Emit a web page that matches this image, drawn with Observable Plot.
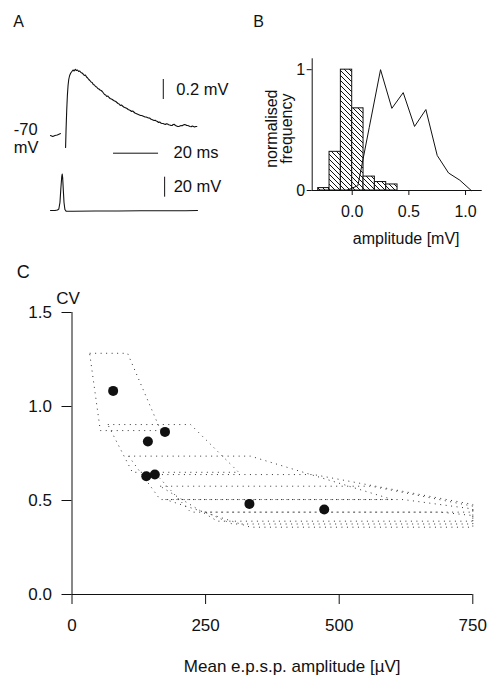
<!DOCTYPE html>
<html><head><meta charset="utf-8">
<script src="https://cdn.jsdelivr.net/npm/d3@7"></script>
<script src="https://cdn.jsdelivr.net/npm/@observablehq/plot@0.6"></script>
<style>
html,body{margin:0;padding:0;background:#fff;}
#fig{position:relative;width:490px;height:677px;overflow:hidden;font-family:"Liberation Sans",Arial,sans-serif;background:#fff;}
#fig > svg{position:absolute;}
</style></head><body><div id="fig"></div>
<script>
const FONT = '"Liberation Sans", Arial, sans-serif';

// ---------- Panel A: EPSP trace (ms, mV relative to -70 mV rest) ----------
const epspTime = [0,1,2,3,4,4.4,
  6.7,6.9,7.2,7.5,7.8,8.1,8.5,9.0,9.5,10.0,10.5,11.0,11.5,12.0,12.5,13.0,13.5,14,14.5,15,15.5,16,16.5,17,17.5,18,18.5,19,19.5,20,20.5,21,21.5,22,22.5,23,23.5,24,24.5,25,25.5,26,26.5,27,27.5,28,28.5,29,29.5,30,30.5,31,31.5,32,32.5,33,33.5,34,34.5,35,35.5,36,36.5,37,37.5,38,38.5,39,39.5,40,40.5,41,41.5,42,42.5,43,43.5,44,44.5,45,45.5,46,46.5,47,47.5,48,48.5,49,49.5,50,50.5,51,51.5,52,52.5,53,53.5,54,54.5,55,55.5,56,56.5,57,57.5,58,58.5,59,59.5,60,60.5,61,61.5,62,62.5,63,63.5,64,64.5,65];
const epspMv = [0,-0.01,0.0,0.005,0.015,0.02,
  -0.12,0.05,0.25,0.40,0.50,0.56,0.60,0.625,0.64,0.655,0.645,0.662,0.65,0.655,0.64,0.645,0.63,0.625,0.615,0.60,0.605,0.585,0.575,0.56,0.55,0.535,0.53,0.51,0.505,0.49,0.485,0.47,0.465,0.455,0.45,0.44,0.425,0.41,0.405,0.39,0.395,0.38,0.37,0.365,0.36,0.35,0.345,0.34,0.33,0.32,0.315,0.30,0.305,0.295,0.285,0.28,0.275,0.27,0.26,0.255,0.25,0.24,0.245,0.235,0.225,0.22,0.215,0.21,0.205,0.20,0.2,0.195,0.19,0.185,0.185,0.18,0.175,0.175,0.165,0.16,0.155,0.15,0.152,0.145,0.14,0.13,0.135,0.125,0.12,0.12,0.115,0.11,0.118,0.115,0.108,0.105,0.1,0.10,0.11,0.112,0.1,0.095,0.09,0.09,0.095,0.1,0.098,0.105,0.11,0.108,0.1,0.1,0.095,0.09,0.088,0.095,0.09,0.085,0.09,0.09];
const epspSeg = epspTime.map(t => t < 5 ? "pre" : "post");

// Panel A: presynaptic spike trace (ms, mV relative to baseline)
const spikeTime = [0,2,3.1,3.7,4.2,4.6,5.0,5.2,5.4,5.7,6.0,6.4,7.0,10,20,30,40,50,60,65.3];
const spikeMv   = [0,0,0.5,1.5,8,22,34,36.5,33,20,8,1,-0.8,-0.8,-0.5,-0.5,-0.3,-0.3,-0.2,0];

// Scale bars and labels
const barEpsp = {t: 50.1, v1: 0.36, v2: 0.56, label: "0.2 mV"};
const barTime = {t1: 28, t2: 48, v: -0.177, label: "20 ms"};
const barSpike = {t: 50.7, v1: 13.3, v2: 33.3, label: "20 mV"};
const restLabel = {t: 0, v: 0, label: "-70\nmV"};

// ---------- Panel B: amplitude histograms ----------
const failBinLo = [-0.3,-0.2,-0.1,0.0,0.1,0.2,0.3];
const failBinHi = [-0.2,-0.1,0.0,0.1,0.2,0.3,0.4];
const failFreq  = [0.02,0.32,1.0,0.68,0.115,0.07,0.05];
const epspAmp   = [-0.05,0.05,0.15,0.25,0.35,0.45,0.55,0.65,0.75,0.85,0.95,1.05];
const epspFreq  = [0,0.04,0.52,1.0,0.68,0.81,0.53,0.67,0.29,0.145,0.085,0];
const bXDomain = [-0.353, 1.147];
const bYDomain = [0, 1.09];
const bXTicks = [0, 0.5, 1.0];
const bYTicks = [0, 1];

// ---------- Panel C: CV vs mean EPSP amplitude ----------
const cellMean = [77,174,142,139,155,332,472];
const cellCV   = [1.083,0.865,0.814,0.629,0.638,0.482,0.452];
const regionMean = [
  [33,104,166,53],
  [67,222,312,113],
  [106,334,600,165],
  [158,452,750,750,222],
  [165,560,750,750,272],
  [175,620,750,750,334],
  [250,690,750,750,300]
];
const regionCV = [
  [1.283,1.283,0.872,0.872],
  [0.904,0.904,0.65,0.65],
  [0.736,0.736,0.505,0.505],
  [0.638,0.638,0.479,0.438,0.438],
  [0.576,0.576,0.47,0.39,0.39],
  [0.505,0.505,0.455,0.358,0.358],
  [0.438,0.438,0.42,0.375,0.375]
];
const cXTicks = [0,250,500,750];
const cYTicks = [0,0.5,1.0,1.5];

const fig = document.getElementById("fig");
function place(svg, left, top) {
  svg.style.left = left + "px";
  svg.style.top = top + "px";
  fig.appendChild(svg);
}

// Panel A top (EPSP)
const epspData = epspTime.map((t, i) => ({t, v: epspMv[i], seg: epspSeg[i]}));
const a1 = Plot.plot({
  width: 240, height: 110, marginLeft: 50, marginRight: 43, marginTop: 0, marginBottom: 0,
  x: {domain: [0, 65.3], axis: null},
  y: {domain: [-0.3, 0.8], axis: null},
  style: {fontSize: "16.5px", fontFamily: FONT, background: "transparent", overflow: "visible", color: "#111"},
  marks: [
    Plot.line(epspData, {x: "t", y: "v", z: "seg", stroke: "#111", strokeWidth: 1.1}),
    Plot.ruleX([barEpsp], {x: "t", y1: "v1", y2: "v2", stroke: "#111"}),
    Plot.text([barEpsp], {x: "t", y: d => (d.v1 + d.v2) / 2, text: "label", textAnchor: "start", dx: 13}),
    Plot.ruleY([barTime], {y: "v", x1: "t1", x2: "t2", stroke: "#111"}),
    Plot.text([barTime], {x: "t2", y: "v", text: "label", textAnchor: "start", dx: 15}),
    Plot.text([restLabel], {x: "t", y: "v", text: "label", textAnchor: "start", dx: -36.7, dy: 2.4, lineHeight: 1.13})
  ]
});
place(a1, 0, 55);

// Panel A bottom (spike)
const spikeData = spikeTime.map((t, i) => ({t, v: spikeMv[i]}));
const a2 = Plot.plot({
  width: 240, height: 55, marginLeft: 50, marginRight: 43, marginTop: 0, marginBottom: 0,
  x: {domain: [0, 65.3], axis: null},
  y: {domain: [-10, 45], axis: null},
  style: {fontSize: "16.5px", fontFamily: FONT, background: "transparent", overflow: "visible", color: "#111"},
  marks: [
    Plot.line(spikeData, {x: "t", y: "v", stroke: "#111", strokeWidth: 1.1}),
    Plot.ruleX([barSpike], {x: "t", y1: "v1", y2: "v2", stroke: "#111"}),
    Plot.text([barSpike], {x: "t", y: d => (d.v1 + d.v2) / 2, text: "label", textAnchor: "start", dx: 9})
  ]
});
place(a2, 0, 165);

// Panel B
const failData = failBinLo.map((lo, i) => ({lo, hi: failBinHi[i], f: failFreq[i]}));
const epspHist = epspAmp.map((a, i) => ({a, f: epspFreq[i]}));
const b = Plot.plot({
  width: 250, height: 220, marginLeft: 71.7, marginRight: 8.3, marginTop: 18.3, marginBottom: 70,
  x: {domain: bXDomain, ticks: bXTicks, tickSize: 5, tickPadding: 10, tickFormat: d => d.toFixed(1), label: null},
  y: {domain: bYDomain, ticks: bYTicks, tickSize: 5, tickPadding: 2, tickFormat: d => String(d), label: null},
  style: {fontSize: "16px", fontFamily: FONT, background: "transparent", overflow: "visible", color: "#111"},
  marks: [
    Plot.rectY(failData, {x1: "lo", x2: "hi", y: "f", fill: "url(#hatch)", stroke: "#111", strokeWidth: 1, inset: 0}),
    Plot.line(epspHist, {x: "a", y: "f", stroke: "#111", strokeWidth: 1}),
    Plot.ruleX([bXDomain[0]], {stroke: "#111"}),
    Plot.ruleY([0], {stroke: "#111"}),
    Plot.text(["normalised\nfrequency"], {text: d => d, frameAnchor: "left", textAnchor: "middle", lineAnchor: "middle", rotate: -90, dx: -32.5, dy: 4, lineHeight: 0.95}),
    Plot.text(["amplitude [mV]"], {text: d => d, frameAnchor: "bottom", textAnchor: "middle", lineAnchor: "middle", dx: 9, dy: 48})
  ]
});
{
  const defs = d3.select(b).insert("defs", ":first-child");
  const pat = defs.append("pattern").attr("id", "hatch").attr("patternUnits", "userSpaceOnUse").attr("width", 5).attr("height", 5);
  pat.append("rect").attr("width", 5).attr("height", 5).attr("fill", "white");
  pat.append("path").attr("d", "M-1,-1L6,6M-1,4L1,6M4,-1L6,1").attr("stroke", "#111").attr("stroke-width", 1);
}
place(b, 240, 40);

// Panel C
const cells = cellMean.map((m, i) => ({m, cv: cellCV[i]}));
const regions = [];
regionMean.forEach((xs, k) => {
  xs.forEach((m, j) => regions.push({k, m, cv: regionCV[k][j]}));
  regions.push({k, m: xs[0], cv: regionCV[k][0]});
});
const c = Plot.plot({
  width: 490, height: 397, marginLeft: 71.5, marginRight: 17.7, marginTop: 32, marginBottom: 83,
  x: {domain: [0, 750], ticks: cXTicks, tickSize: 10, tickPadding: 14, tickFormat: d => String(d), label: null},
  y: {domain: [0, 1.5], ticks: cYTicks, tickSize: 10, tickPadding: 10, tickFormat: d => d.toFixed(1), label: null},
  style: {fontSize: "17px", fontFamily: FONT, background: "transparent", overflow: "visible", color: "#111"},
  marks: [
    Plot.line(regions, {x: "m", y: "cv", z: "k", stroke: "#333", strokeWidth: 1, strokeDasharray: "1,4.5", strokeLinecap: "butt"}),
    Plot.dot(cells, {x: "m", y: "cv", r: 5, fill: "#111", stroke: "none"}),
    Plot.ruleX([0], {stroke: "#111"}),
    Plot.ruleY([0], {stroke: "#111"}),
    Plot.text(["CV"], {text: d => d, frameAnchor: "top-left", textAnchor: "middle", lineAnchor: "middle", dx: -4, dy: -14}),
    Plot.text(["Mean e.p.s.p. amplitude [\u00b5V]"], {text: d => d, frameAnchor: "bottom", textAnchor: "middle", lineAnchor: "middle", dx: 19.8, dy: 72})
  ]
});
place(c, 0, 280);

// Panel letters
const ns = "http://www.w3.org/2000/svg";
const over = document.createElementNS(ns, "svg");
over.setAttribute("width", 490); over.setAttribute("height", 677);
over.style.left = "0px"; over.style.top = "0px"; over.style.pointerEvents = "none";
[["A", 13.3, 27, 16], ["B", 253.3, 26.7, 16], ["C", 16.7, 278, 18]].forEach(([s, x, y, fs]) => {
  const t = document.createElementNS(ns, "text");
  t.setAttribute("x", x); t.setAttribute("y", y);
  t.setAttribute("font-size", fs); t.setAttribute("font-family", FONT); t.setAttribute("fill", "#111");
  t.textContent = s; over.appendChild(t);
});
fig.appendChild(over);
</script></body></html>
